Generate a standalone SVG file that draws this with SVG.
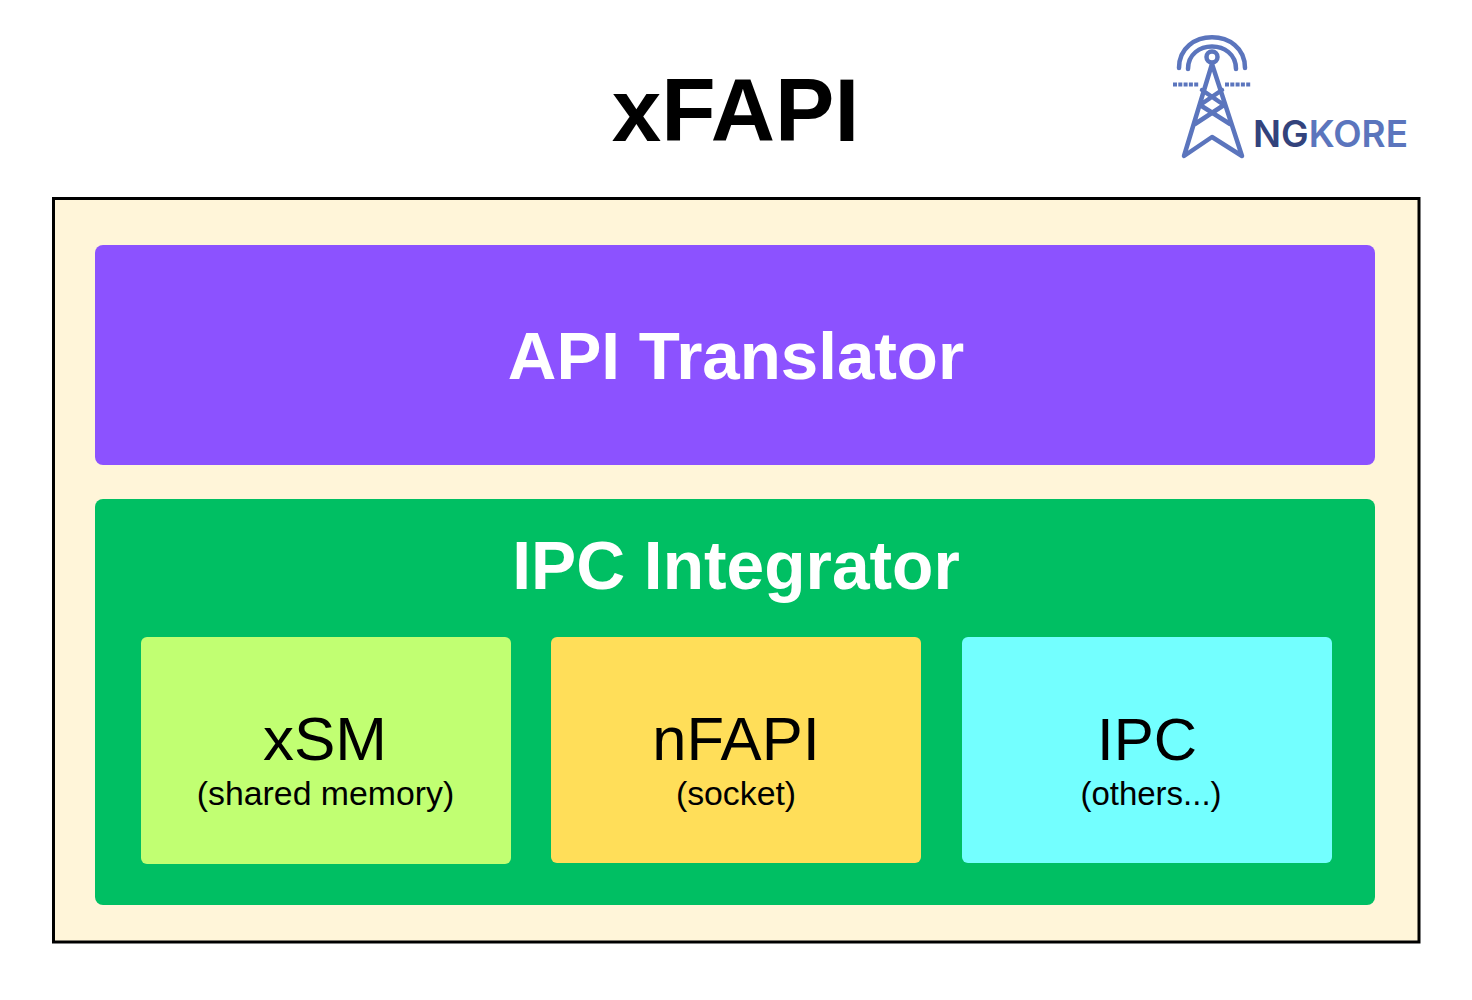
<svg xmlns="http://www.w3.org/2000/svg" width="1472" height="1000" viewBox="0 0 1472 1000">
<style>
text{font-family:"Liberation Sans",Arial,sans-serif;text-anchor:middle}
.b{font-weight:700}
.w{fill:#fff}
.k{fill:#000}
.sub{font-size:33.800px}
.l{fill:none;stroke:#5b75bd;stroke-width:4.500;stroke-linecap:round;stroke-linejoin:round}
.d{fill:none;stroke:#5b75bd;stroke-width:4;stroke-dasharray:4 1.300}
.logo{font-size:37px;font-weight:600;text-anchor:start;font-family:Inter,"Liberation Sans",sans-serif}
</style>
<rect width="1472" height="1000" fill="#fff"/>
<g id="title"><text x="735.500" y="141" class="b k" style="font-size:89px">xFAPI</text></g>
<g id="logo">
<path class="l" d="M1179 68C1179 27 1245 27 1245 68M1188 69C1188 39 1236 39 1236 69"/>
<circle class="l" cx="1212" cy="57" r="5.500"/>
<path class="l" d="M1212 64L1184 156L1212 137L1242 156ZM1202 90L1224 105L1195 124M1222 90L1200 105L1230 124"/>
<path class="d" d="M1173 84.500H1199M1225 84.500H1251"/>
<text x="1253" y="147" class="logo" textLength="155" lengthAdjust="spacingAndGlyphs"><tspan fill="#33437c">NG</tspan><tspan fill="#5b75bd">KORE</tspan></text>
</g>
<g id="frame"><rect x="53.500" y="198.500" width="1365.500" height="743.500" fill="#fff5d9" stroke="#000" stroke-width="3"/></g>
<g id="api-translator"><rect x="95" y="245" width="1280" height="220" rx="8" fill="#8c52ff"/><text x="736" y="379" class="b w" style="font-size:67.300px">API Translator</text></g>
<g id="ipc-integrator"><rect x="95" y="499" width="1280" height="406" rx="8" fill="#00bf63"/><text x="736" y="589" class="b w" style="font-size:67.700px">IPC Integrator</text></g>
<g id="xsm"><rect x="141" y="637" width="370" height="227" rx="6" fill="#c1ff72"/><text x="325" y="760" class="k" style="font-size:62px">xSM</text><text x="325.500" y="805" class="k sub">(shared memory)</text></g>
<g id="nfapi"><rect x="551" y="637" width="370" height="226" rx="6" fill="#ffde59"/><text x="736" y="760" class="k" style="font-size:61.500px">nFAPI</text><text x="736" y="805" class="k sub">(socket)</text></g>
<g id="ipc"><rect x="962" y="637" width="370" height="226" rx="6" fill="#73ffff"/><text x="1147" y="760" class="k" style="font-size:60px">IPC</text><text x="1151" y="805" class="k" style="font-size:33px">(others...)</text></g>
<g id="connectors"/>
</svg>
